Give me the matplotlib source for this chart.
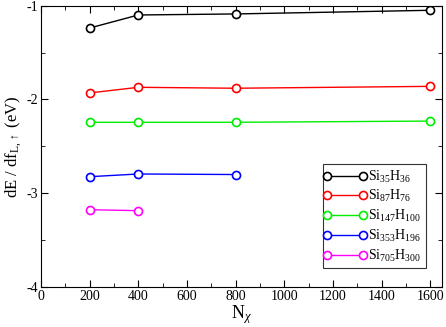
import matplotlib
matplotlib.use("Agg")
import matplotlib.pyplot as plt
from matplotlib.ticker import MultipleLocator

plt.rcParams['font.family'] = ['Liberation Serif', 'DejaVu Serif']
plt.rcParams['mathtext.fontset'] = 'custom'
plt.rcParams['mathtext.rm'] = 'Liberation Serif'
plt.rcParams['mathtext.it'] = 'Liberation Serif:italic'
plt.rcParams['mathtext.bf'] = 'Liberation Serif:bold'

labels = ["Si$_{35}$H$_{36}$", "Si$_{87}$H$_{76}$", "Si$_{147}$H$_{100}$",
          "Si$_{353}$H$_{196}$", "Si$_{705}$H$_{300}$"]
colors = ["black", "red", "#00ee00", "blue", "#ff00ff"]
x_si35 = [200, 400, 800, 1600]
y_si35 = [-1.238, -1.099, -1.088, -1.049]
x_si87 = [200, 400, 800, 1600]
y_si87 = [-1.93, -1.87, -1.88, -1.86]
x_si147 = [200, 400, 800, 1600]
y_si147 = [-2.243, -2.243, -2.243, -2.23]
x_si353 = [200, 400, 800]
y_si353 = [-2.823, -2.794, -2.80]
x_si705 = [200, 400]
y_si705 = [-3.175, -3.185]
xs = [x_si35, x_si87, x_si147, x_si353, x_si705]
ys = [y_si35, y_si87, y_si147, y_si353, y_si705]

fig = plt.figure(figsize=(4.46, 3.27), dpi=100)
ax = fig.add_axes([0.092, 0.122, 0.899, 0.8606])
for x, y, c, l in zip(xs, ys, colors, labels):
    ax.plot(x, y, '-', color=c, lw=1.0, marker='o', markersize=5.8,
            markerfacecolor='white', markeredgecolor=c, markeredgewidth=1.2, label=l)

ax.set_xlim(0, 1648)
ax.set_ylim(-4, -1)
ax.xaxis.set_major_locator(MultipleLocator(200))
ax.xaxis.set_minor_locator(MultipleLocator(100))
ax.yaxis.set_minor_locator(MultipleLocator(0.5))
ax.set_yticks([-4, -3, -2, -1])
ax.set_yticklabels(["-4", "-3", "-2", "-1"])
ax.tick_params(which='both', direction='in', top=True, right=True, labelsize=10, pad=2)
ax.tick_params(which='major', length=5)
ax.tick_params(which='minor', length=3)
ax.set_xlabel("N$_\\chi$", fontsize=13, labelpad=0)
ax.set_ylabel("dE / df$_{\\mathrm{L},\\uparrow}$ (eV)", fontsize=12, labelpad=2)

leg = ax.legend(loc='lower right', bbox_to_anchor=(0.959, 0.0675), fontsize=10,
                handlelength=2.6, frameon=True, fancybox=False, edgecolor='black',
                borderpad=0.3, labelspacing=0.27, handletextpad=0.4, borderaxespad=0.0,
                markerfirst=True)
leg.get_frame().set_linewidth(0.8)
for h in leg.legend_handles:
    h.set_markevery([0, -1])
    h.set_marker('o')

fig.savefig("out.png", dpi=100)
